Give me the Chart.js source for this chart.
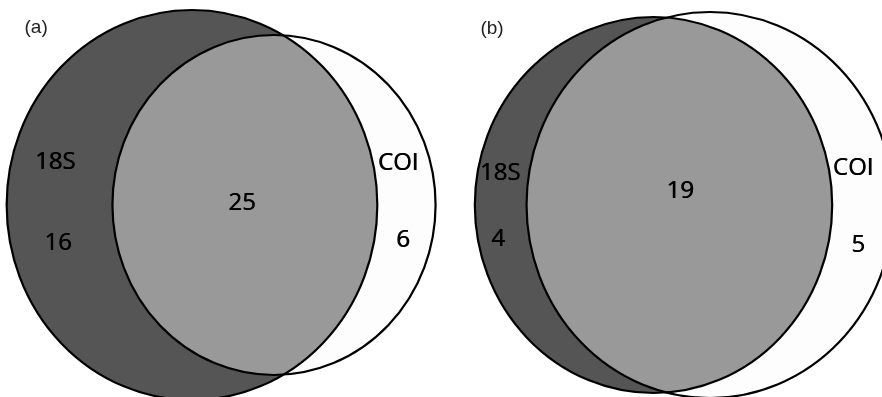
<!DOCTYPE html>
<html>
<head>
<meta charset="utf-8">
<script src="https://cdn.jsdelivr.net/npm/chart.js@4"></script>
<style>
  html, body { margin: 0; padding: 0; background: #fff; }
  canvas { display: block; }
</style>
</head>
<body>
<canvas id="vennChart" width="882" height="397"></canvas>
<script>
// counts per panel
var panelLabels = ['(a)', '(b)'];
var setNames = ['18S', 'COI'];
var only18S = [16, 4];
var shared = [25, 19];
var onlyCOI = [6, 5];

// circles in axis units (x axis is a little squeezed, like the original figure)
var circle18S_x = [202, 687.6];
var circle18S_y = [205, 205];
var circle18S_r = [195, 188];
var circleCOI_x = [288.3, 747];
var circleCOI_y = [205, 205];
var circleCOI_r = [170, 193];

// where the text sits, axis units
var labelPos = [
    { panel: [38, 28], a: [58, 162], aN: [61, 243], ab: [254.6, 203], b: [418.8, 163], bN: [424, 240] },
    { panel: [517.7, 29], a: [526.1, 173], aN: [524, 239], ab: [715.5, 191], b: [897.5, 168], bN: [902.8, 245] }
];

function ellipsePath(ctx, xs, ys, cx, cy, r) {
    var px = xs.getPixelForValue(cx);
    var py = ys.getPixelForValue(cy);
    var rx = Math.abs(xs.getPixelForValue(cx + r) - px);
    var ry = Math.abs(ys.getPixelForValue(cy + r) - py);
    ctx.beginPath();
    ctx.ellipse(px, py, rx, ry, 0, 0, Math.PI * 2);
}

var vennPlugin = {
    id: 'venn',
    afterDatasetsDraw: function(chart) {
        var ctx = chart.ctx;
        var xs = chart.scales.x, ys = chart.scales.y;
        ctx.save();
        for (var i = 0; i < panelLabels.length; i++) {
            // 18S circle
            ellipsePath(ctx, xs, ys, circle18S_x[i], circle18S_y[i], circle18S_r[i]);
            ctx.fillStyle = '#555555';
            ctx.fill();
            // COI circle
            ellipsePath(ctx, xs, ys, circleCOI_x[i], circleCOI_y[i], circleCOI_r[i]);
            ctx.fillStyle = '#fdfdfd';
            ctx.fill();
            // overlap
            ctx.save();
            ellipsePath(ctx, xs, ys, circle18S_x[i], circle18S_y[i], circle18S_r[i]);
            ctx.clip();
            ellipsePath(ctx, xs, ys, circleCOI_x[i], circleCOI_y[i], circleCOI_r[i]);
            ctx.fillStyle = '#999999';
            ctx.fill();
            ctx.restore();
            // outlines
            ctx.lineWidth = 2.2;
            ctx.strokeStyle = '#000';
            ellipsePath(ctx, xs, ys, circle18S_x[i], circle18S_y[i], circle18S_r[i]);
            ctx.stroke();
            ellipsePath(ctx, xs, ys, circleCOI_x[i], circleCOI_y[i], circleCOI_r[i]);
            ctx.stroke();

            var lp = labelPos[i];
            ctx.textAlign = 'center';
            ctx.textBaseline = 'middle';
            ctx.fillStyle = '#000';
            ctx.font = '24px "Open Sans"';
            var texts = [
                [setNames[0], lp.a], [String(only18S[i]), lp.aN],
                [String(shared[i]), lp.ab],
                [setNames[1], lp.b], [String(onlyCOI[i]), lp.bN]
            ];
            texts.forEach(function(t) {
                var x = xs.getPixelForValue(t[1][0]), y = ys.getPixelForValue(t[1][1]);
                ctx.fillText(t[0], x, y);
                ctx.fillText(t[0], x + 0.6, y); // a touch heavier, the scan is bolder
            });
            ctx.font = '19px "Liberation Sans"';
            ctx.fillStyle = '#222';
            ctx.fillText(panelLabels[i], xs.getPixelForValue(lp.panel[0]), ys.getPixelForValue(lp.panel[1]));
        }
        ctx.restore();
    }
};

var ctx = document.getElementById('vennChart').getContext('2d');
var vennChart = new Chart(ctx, {
    type: 'scatter',
    data: {
        datasets: [{
            label: '18S',
            data: circle18S_x.map((x, i) => ({ x: x, y: circle18S_y[i] })),
            pointRadius: 0
        }, {
            label: 'COI',
            data: circleCOI_x.map((x, i) => ({ x: x, y: circleCOI_y[i] })),
            pointRadius: 0
        }]
    },
    options: {
        responsive: false,
        animation: false,
        layout: { padding: 0 },
        plugins: {
            legend: { display: false },
            tooltip: { enabled: false }
        },
        scales: {
            x: { type: 'linear', min: 0, max: 928, display: false },
            y: { type: 'linear', min: 0, max: 397, reverse: true, display: false }
        }
    },
    plugins: [vennPlugin]
});
</script>
</body>
</html>
